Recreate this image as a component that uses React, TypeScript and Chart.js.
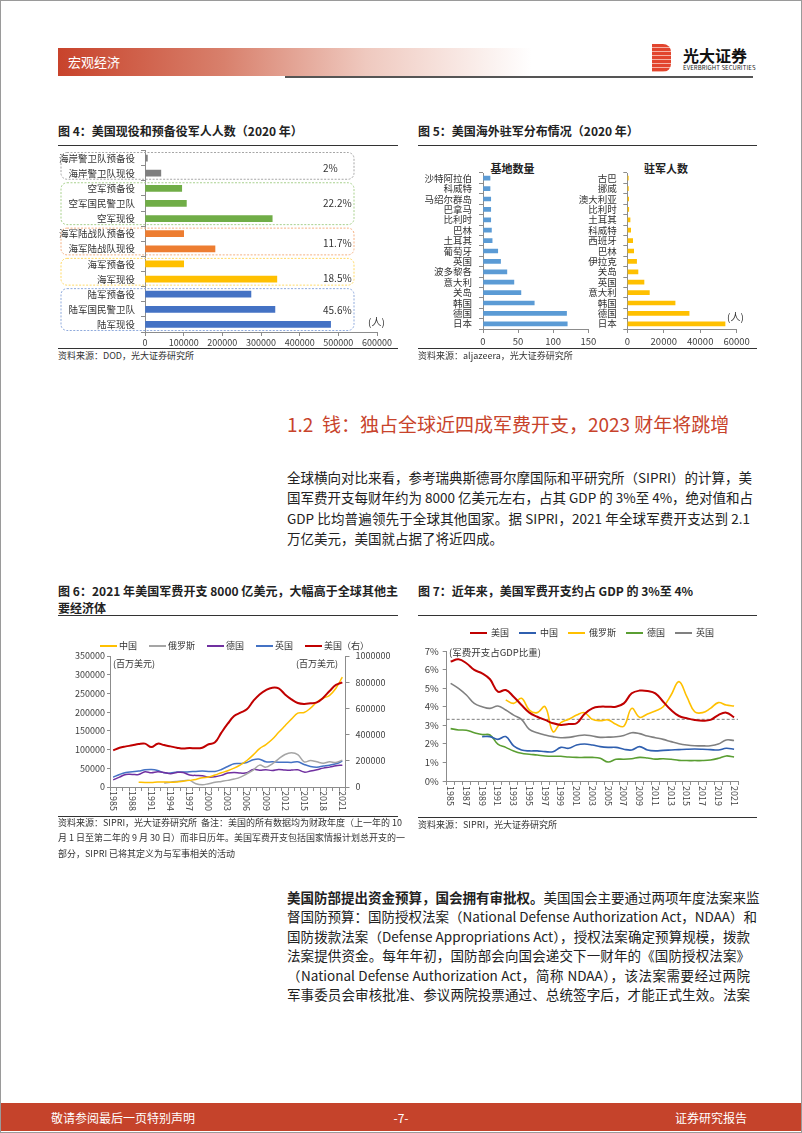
import React, { useEffect, useRef } from "react";
import { Chart, registerables } from "chart.js";

Chart.register(...registerables);

const FONT = '"Noto Sans CJK SC", "Noto Sans", sans-serif';
Chart.defaults.font.family = FONT;

// ---------------- Fig 4 data ----------------
const fig4Categories = [
  "海岸警卫队预备役", "海岸警卫队现役",
  "空军预备役", "空军国民警卫队", "空军现役",
  "海军陆战队预备役", "海军陆战队现役",
  "海军预备役", "海军现役",
  "陆军预备役", "陆军国民警卫队", "陆军现役",
];
const fig4Values = [6200, 41000, 95000, 107000, 329000, 100000, 181000, 100000, 341000, 274000, 336000, 480000];
const fig4GroupSizes = [2, 3, 2, 2, 3];
const fig4GroupShares = ["2%", "22.2%", "11.7%", "18.5%", "45.6%"];
const fig4Max = 600000;
const fig4Step = 100000;

// ---------------- Fig 5 data ----------------
const fig5BaseCountries = ["沙特阿拉伯", "科威特", "马绍尔群岛", "巴拿马", "比利时", "巴林", "土耳其", "葡萄牙", "英国", "波多黎各", "意大利", "关岛", "韩国", "德国", "日本"];
const fig5BaseCounts = [10, 10, 11, 11, 11, 12, 13, 21, 25, 34, 44, 54, 73, 119, 120];
const fig5TroopCountries = ["古巴", "挪威", "澳大利亚", "比利时", "土耳其", "科威特", "西班牙", "巴林", "伊拉克", "关岛", "英国", "意大利", "韩国", "德国", "日本"];
const fig5TroopCounts = [550, 600, 750, 800, 1500, 1850, 2950, 3500, 5100, 5850, 9150, 12100, 26200, 33900, 53600];

// ---------------- Fig 6 data ----------------
const years = [
  "1985", "1986", "1987", "1988", "1989", "1990", "1991", "1992", "1993", "1994",
  "1995", "1996", "1997", "1998", "1999", "2000", "2001", "2002", "2003", "2004",
  "2005", "2006", "2007", "2008", "2009", "2010", "2011", "2012", "2013", "2014",
  "2015", "2016", "2017", "2018", "2019", "2020", "2021",
];
const fig6XTicks = ["1985", "1988", "1991", "1994", "1997", "2000", "2003", "2006", "2009", "2012", "2015", "2018", "2021"];
const fig6China = [null, null, null, null,
  12800, 12300, 12300, 13500, 13500, 12800, 13500, 15500, 17700, 20300,
  24800, 26500, 31900, 38000, 43400, 50400, 59300, 70800, 85800, 102600,
  113300, 127400, 146000, 163700, 181400, 197300, 199000, 210600, 226500, 237000,
  245000, 263700, 293800];
const fig6Russia = [null, null, null, null, null, null, null, null,
  10600, 13000, 15000, 16800, 17700, 8800, 6200, 8800, 12400, 15000,
  17700, 21200, 26500, 35400, 45100, 58400, 53100, 62000, 75200, 86700,
  91200, 86700, 67300, 70800, 67300, 63700, 67300, 65500, 71700];
const fig6Germany = [19000, 26500, 33600, 33600, 33600, 40700, 38000, 40700, 38900, 35400,
  38900, 38900, 31900, 31000, 30100, 26500, 27400, 31000, 37200, 38900,
  37200, 38000, 46900, 45000, 46000, 44200, 46900, 45100, 45100, 46000,
  39800, 42500, 46000, 50400, 53100, 56600, 58400];
const fig6UK = [26000, 33600, 38900, 40700, 42500, 46000, 46900, 44200, 38000, 37200,
  39800, 39800, 40700, 41600, 42500, 41600, 41600, 46900, 54900, 62000,
  62800, 65500, 72600, 74300, 67300, 67300, 66400, 66400, 65500, 67300,
  60200, 54900, 53100, 55800, 58400, 62000, 69000];
const fig6US = [280000, 300000, 310000, 318000, 328000, 331000, 305000, 331000, 320000, 310000,
  300000, 293000, 298000, 295000, 300000, 326000, 341000, 415000, 483000, 542000,
  567000, 593000, 656000, 707000, 740000, 758000, 753000, 707000, 669000, 641000,
  634000, 639000, 646000, 682000, 733000, 779000, 799000];
const fig6LeftMax = 350000;
const fig6LeftStep = 50000;
const fig6RightMax = 1000000;
const fig6RightStep = 200000;

// ---------------- Fig 7 data ----------------
const fig7XTicks = ["1985", "1987", "1989", "1991", "1993", "1995", "1997", "1999", "2001", "2003", "2005", "2007", "2009", "2011", "2013", "2015", "2017", "2019", "2021"];
const fig7US = [6.43, 6.55, 6.34, 5.98, 5.80, 5.48, 4.81, 4.90, 4.54, 4.09,
  3.68, 3.46, 3.29, 3.11, 3.02, 3.07, 3.11, 3.61, 3.91, 4.00,
  4.00, 4.00, 4.18, 4.72, 4.87, 4.85, 4.72, 4.27, 3.82, 3.50,
  3.38, 3.29, 3.25, 3.29, 3.55, 3.68, 3.43];
const fig7China = [null, null, null, null,
  2.39, 2.39, 2.24, 2.39, 1.89, 1.67, 1.62, 1.62, 1.58, 1.58,
  1.81, 1.76, 1.94, 1.99, 1.94, 1.85, 1.81, 1.81, 1.71, 1.67,
  1.85, 1.67, 1.62, 1.65, 1.67, 1.69, 1.71, 1.72, 1.71, 1.69,
  1.67, 1.76, 1.71];
const fig7Russia = [null, null, null, null, null, null, null,
  4.36, 4.18, 4.45, 3.82, 3.68, 4.00, 2.66, 3.14, 3.32, 3.55,
  3.68, 3.32, 3.25, 3.29, 3.05, 2.95, 3.91, 3.43, 3.61, 3.77,
  4.00, 4.63, 5.35, 4.54, 3.73, 3.68, 3.91, 4.22, 4.09, 4.04];
const fig7Germany = [2.82, 2.75, 2.73, 2.60, 2.50, 2.48, 1.99, 1.81, 1.62, 1.49,
  1.44, 1.40, 1.35, 1.33, 1.33, 1.29, 1.27, 1.27, 1.27, 1.22,
  1.02, 1.17, 1.17, 1.20, 1.27, 1.24, 1.18, 1.20, 1.17, 1.11,
  1.10, 1.10, 1.10, 1.13, 1.22, 1.35, 1.29];
const fig7UK = [5.26, 4.99, 4.63, 4.18, 4.00, 3.91, 4.04, 3.82, 3.55, 3.32,
  2.78, 2.60, 2.48, 2.39, 2.33, 2.35, 2.42, 2.48, 2.42, 2.35,
  2.36, 2.38, 2.45, 2.60, 2.55, 2.42, 2.33, 2.24, 2.12, 2.01,
  1.94, 1.90, 1.89, 1.90, 1.99, 2.21, 2.18];
const fig7RefLevel = 3.32;
const fig7Max = 7;

// ---------------- styles ----------------
const AX = "#8c8c8c";
const TICK = "#404040";
const fig4GroupColors = ["#7F7F7F", "#70AD47", "#ED7D31", "#FFC000", "#4472C4"];
const fig4BoxColors = ["#A6A6A6", "#A9D18E", "#F4B183", "#FFD966", "#8FAADC"];
const fig4LabelDy = [2, 0, 2, 6, 1];

const fixW = (w: number) => (s: any) => {
  s.width = w; s.paddingTop = 0; s.paddingBottom = 0; s.paddingLeft = 0; s.paddingRight = 0;
};
const fixH = (h: number) => (s: any) => {
  s.height = h; s.paddingTop = 0; s.paddingBottom = 0; s.paddingLeft = 0; s.paddingRight = 0;
};
const num = (v: any) => String(v);

function ChartCanvas({ left, top, width, height, build }: any) {
  const ref = useRef<HTMLCanvasElement>(null);
  useEffect(() => {
    const chart = new Chart(ref.current as HTMLCanvasElement, build());
    return () => chart.destroy();
  }, []);
  return (
    <canvas ref={ref} width={width} height={height}
      style={{ position: "absolute", left, top, width, height }} />
  );
}

// ---------- Fig 4 ----------
const fig4GroupPlugin = {
  id: "fig4Groups",
  beforeDatasetsDraw(chart: any) {
    const { ctx } = chart;
    const y = chart.scales.y;
    const half = (y.getPixelForValue(1) - y.getPixelForValue(0)) / 2;
    let start = 0;
    ctx.save();
    fig4GroupSizes.forEach((n, g) => {
      const top = y.getPixelForValue(start) - half + 2;
      const bot = y.getPixelForValue(start + n - 1) + half - 1.5;
      ctx.beginPath();
      ctx.roundRect(3, top, 293, bot - top, 6);
      ctx.setLineDash([2, 1.5]);
      ctx.lineWidth = 1;
      ctx.strokeStyle = fig4BoxColors[g];
      ctx.stroke();
      ctx.setLineDash([]);
      ctx.fillStyle = "#333";
      ctx.font = `10px ${FONT}`;
      ctx.textBaseline = "middle";
      ctx.textAlign = "left";
      ctx.fillText(fig4GroupShares[g], 265, (top + bot) / 2 + fig4LabelDy[g]);
      start += n;
    });
    ctx.fillText("(人)", 310, 174);
    ctx.restore();
  },
};

const buildFig4 = () => {
  const colors: string[] = [];
  fig4GroupSizes.forEach((n, g) => { for (let i = 0; i < n; i++) colors.push(fig4GroupColors[g]); });
  return {
    type: "bar",
    data: { labels: fig4Categories, datasets: [{ data: fig4Values, backgroundColor: colors, barThickness: 6 }] },
    options: {
      responsive: false, animation: false, indexAxis: "y",
      layout: { padding: { top: 2.5, right: 21, left: 0, bottom: 0 } },
      plugins: { legend: { display: false }, tooltip: { enabled: false } },
      scales: {
        x: {
          type: "linear", min: 0, max: fig4Max,
          ticks: { stepSize: fig4Step, font: { size: 9 }, color: TICK, padding: 1, maxRotation: 0, callback: num },
          grid: { drawOnChartArea: false, tickLength: 4, color: AX }, border: { color: AX },
          afterFit: fixH(16),
        },
        y: {
          ticks: { font: { size: 9.5 }, color: "#333", padding: 6, autoSkip: false },
          grid: { drawOnChartArea: false, tickLength: 4, color: AX }, border: { color: AX },
          afterFit: fixW(87),
        },
      },
    },
    plugins: [fig4GroupPlugin],
  };
};

// ---------- Fig 5 ----------
const unitPlugin = (text: string, x: number, y: number) => ({
  id: "unit",
  afterDraw(chart: any) {
    const ctx = chart.ctx;
    ctx.save();
    ctx.font = `10px ${FONT}`;
    ctx.fillStyle = "#333";
    ctx.textBaseline = "middle";
    ctx.textAlign = "left";
    ctx.fillText(text, x, y);
    ctx.restore();
  },
});

const buildHBar = (labels: string[], values: number[], color: string, max: number, step: number,
  yWidth: number, padRight: number, tickPad: number, extra: any[]) => () => ({
  type: "bar",
  data: { labels, datasets: [{ data: values, backgroundColor: color, barThickness: 4 }] },
  options: {
    responsive: false, animation: false, indexAxis: "y",
    layout: { padding: { top: 3, right: padRight, left: 0, bottom: 0 } },
    plugins: { legend: { display: false }, tooltip: { enabled: false } },
    scales: {
      x: {
        type: "linear", min: 0, max,
        ticks: { stepSize: step, font: { size: 9.5 }, color: TICK, padding: 3, maxRotation: 0, callback: num },
        grid: { drawOnChartArea: false, tickLength: 4, color: AX }, border: { color: AX },
        afterFit: fixH(21),
      },
      y: {
        ticks: { font: { size: 9.5 }, color: "#333", padding: tickPad, autoSkip: false },
        grid: { drawOnChartArea: false, tickLength: 4, color: AX }, border: { color: AX },
        afterFit: fixW(yWidth),
      },
    },
  },
  plugins: extra,
});

// ---------- line chart helpers ----------
const legendPlugin = (startX: number, y: number, lineW: number, gap: number, sep: number) => ({
  id: "lineLegend",
  afterDraw(chart: any) {
    const ctx = chart.ctx;
    ctx.save();
    ctx.font = `9px ${FONT}`;
    ctx.textBaseline = "middle";
    ctx.textAlign = "left";
    let x = startX;
    chart.data.datasets.forEach((d: any) => {
      ctx.strokeStyle = d.borderColor;
      ctx.lineWidth = 2;
      ctx.beginPath();
      ctx.moveTo(x, y);
      ctx.lineTo(x + lineW, y);
      ctx.stroke();
      x += lineW + gap;
      ctx.fillStyle = "#333";
      ctx.fillText(d.label, x, y);
      x += ctx.measureText(d.label).width + sep;
    });
    ctx.restore();
  },
});

const rotatedXLabels = (ticks: string[], offset: number) => ({
  id: "rotX",
  afterDraw(chart: any) {
    const { ctx, chartArea } = chart;
    const xs = chart.scales.x;
    ctx.save();
    ctx.font = `9px ${FONT}`;
    ctx.fillStyle = TICK;
    ctx.textAlign = "left";
    ctx.textBaseline = "middle";
    (chart.data.labels as string[]).forEach((lab, i) => {
      if (!ticks.includes(lab)) return;
      ctx.save();
      ctx.translate(xs.getPixelForValue(i), chartArea.bottom + offset);
      ctx.rotate(Math.PI / 2);
      ctx.fillText(lab, 0, 0);
      ctx.restore();
    });
    ctx.restore();
  },
});

const textPlugin = (items: { t: string; x: number; y: number; align: string; size: number }[]) => ({
  id: "texts",
  afterDraw(chart: any) {
    const ctx = chart.ctx;
    ctx.save();
    ctx.fillStyle = "#333";
    ctx.textBaseline = "middle";
    items.forEach((it) => {
      ctx.font = `${it.size}px ${FONT}`;
      ctx.textAlign = it.align;
      ctx.fillText(it.t, it.x, it.y);
    });
    ctx.restore();
  },
});

const lineDs = (label: string, data: any[], color: string, width: number, axis = "y", order = 0) => ({
  label, data, borderColor: color, backgroundColor: color, borderWidth: width,
  pointRadius: 0, tension: 0.4, yAxisID: axis, order, spanGaps: false,
});

const buildFig6 = () => ({
  type: "line",
  data: {
    labels: years,
    datasets: [
      lineDs("中国", fig6China, "#FFC000", 1.5, "y", 2),
      lineDs("俄罗斯", fig6Russia, "#A5A5A5", 1.5, "y", 3),
      lineDs("德国", fig6Germany, "#7030A0", 1.5, "y", 4),
      lineDs("英国", fig6UK, "#4472C4", 1.5, "y", 5),
      lineDs("美国（右）", fig6US, "#C00000", 2, "y1", 1),
    ],
  },
  options: {
    responsive: false, animation: false,
    layout: { padding: { top: 21, right: 0, left: 0, bottom: 0 } },
    plugins: { legend: { display: false }, tooltip: { enabled: false } },
    scales: {
      x: {
        offset: true,
        ticks: { display: false },
        grid: { drawOnChartArea: false, tickLength: 4, color: AX, offset: true }, border: { color: AX },
        afterFit: fixH(31),
      },
      y: {
        position: "left", min: 0, max: fig6LeftMax,
        ticks: { stepSize: fig6LeftStep, font: { size: 9 }, color: TICK, padding: 2, callback: num },
        grid: { drawOnChartArea: false, tickLength: 3, color: AX }, border: { color: AX },
        afterFit: fixW(52),
      },
      y1: {
        position: "right", min: 0, max: fig6RightMax,
        ticks: { stepSize: fig6RightStep, font: { size: 9 }, color: TICK, padding: 6, callback: num },
        grid: { drawOnChartArea: false, tickLength: 4, color: AX }, border: { color: AX },
        afterFit: fixW(52.5),
      },
    },
  },
  plugins: [
    legendPlugin(42, 11, 17, 2, 12),
    rotatedXLabels(fig6XTicks, 4),
    textPlugin([
      { t: "(百万美元)", x: 55, y: 29, align: "left", size: 9 },
      { t: "(百万美元)", x: 280, y: 29, align: "right", size: 9 },
    ]),
  ],
});

const refLinePlugin = {
  id: "refLine",
  beforeDatasetsDraw(chart: any) {
    const { ctx, chartArea } = chart;
    const y = chart.scales.y.getPixelForValue(fig7RefLevel);
    ctx.save();
    ctx.strokeStyle = "#7F7F7F";
    ctx.lineWidth = 1;
    ctx.setLineDash([3, 2]);
    ctx.beginPath();
    ctx.moveTo(chartArea.left, y);
    ctx.lineTo(chartArea.right, y);
    ctx.stroke();
    ctx.restore();
  },
};

const buildFig7 = () => ({
  type: "line",
  data: {
    labels: years,
    datasets: [
      lineDs("美国", fig7US, "#C00000", 2, "y", 1),
      lineDs("中国", fig7China, "#2F5FAF", 1.6, "y", 3),
      lineDs("俄罗斯", fig7Russia, "#FFC000", 1.6, "y", 2),
      lineDs("德国", fig7Germany, "#5A9E32", 1.6, "y", 4),
      lineDs("英国", fig7UK, "#808080", 1.6, "y", 5),
    ],
  },
  options: {
    responsive: false, animation: false,
    layout: { padding: { top: 29, right: 20, left: 0, bottom: 0 } },
    plugins: { legend: { display: false }, tooltip: { enabled: false } },
    scales: {
      x: {
        offset: true,
        ticks: { display: false },
        grid: { drawOnChartArea: false, tickLength: 4, color: AX, offset: true }, border: { color: AX },
        afterFit: fixH(33),
      },
      y: {
        min: 0, max: fig7Max,
        ticks: { stepSize: 1, font: { size: 9.5 }, color: TICK, padding: 4, callback: (v: any) => v + "%" },
        grid: { drawOnChartArea: false, tickLength: 4, color: AX }, border: { color: AX },
        afterFit: fixW(28.7),
      },
    },
  },
  plugins: [
    refLinePlugin,
    legendPlugin(52, 11, 17, 4, 10),
    rotatedXLabels(fig7XTicks, 5),
    textPlugin([{ t: "(军费开支占GDP比重)", x: 31, y: 30, align: "left", size: 9.5 }]),
  ],
});

// ---------- page helpers ----------
function T({ x, y, size, color = "#222", weight = 400, w, align, just, center, children }: any) {
  const h = Math.round(size * 1.4);
  const style: any = {
    position: "absolute", left: x, top: y - h / 2, height: h, lineHeight: h + "px",
    fontSize: size, color, fontWeight: weight, whiteSpace: "pre",
  };
  if (w) style.width = w;
  if (just) { style.textAlign = "justify"; style.textAlignLast = "justify"; }
  else if (align) style.textAlign = align;
  if (center) style.transform = "translateX(-50%)";
  return <div style={style}>{children}</div>;
}

function Rule({ x, y, w, h = 1, color = "#333" }: any) {
  return <div style={{ position: "absolute", left: x, top: y, width: w, height: h, background: color }} />;
}

const para1 = [
  "全球横向对比来看，参考瑞典斯德哥尔摩国际和平研究所（SIPRI）的计算，美",
  "国军费开支每财年约为 8000 亿美元左右，占其 GDP 的 3%至 4%，绝对值和占",
  "GDP 比均普遍领先于全球其他国家。据 SIPRI，2021 年全球军费开支达到 2.1",
  "万亿美元，美国就占据了将近四成。",
];
const para2 = [
  "督国防预算：国防授权法案（National Defense Authorization Act，NDAA）和",
  "国防拨款法案（Defense Appropriations Act），授权法案确定预算规模，拨款",
  "法案提供资金。每年年初，国防部会向国会递交下一财年的《国防授权法案》",
  "（National Defense Authorization Act，简称 NDAA），该法案需要经过两院",
  "军事委员会审核批准、参议两院投票通过、总统签字后，才能正式生效。法案",
];

export default function App() {
  return (
    <div style={{
      position: "absolute", left: 0, top: 0, width: 802, height: 1133, overflow: "hidden",
      background: "#fff", fontFamily: FONT, color: "#222",
    }}>
      {/* header */}
      <div style={{
        position: "absolute", left: 58, top: 48, width: 474, height: 28,
        background: "linear-gradient(to right, #C8432B 0%, #D8806C 35%, #EFC9BF 65%, #FFFFFF 100%)",
      }} />
      <T x={68} y={62} size={13} color="#fff">宏观经济</T>
      <Rule x={285} y={76} w={468} h={2} color="#555" />
      <div style={{
        position: "absolute", left: 652, top: 44, width: 19, height: 28,
        background: "repeating-linear-gradient(to bottom, #E2452E 0px, #E2452E 3px, #F6B3A6 3px, #F6B3A6 4px)",
        borderRadius: "0 8px 8px 0",
      }} />
      <T x={683} y={55} size={16} weight={700} color="#111">光大证券</T>
      <div style={{ position: "absolute", left: 683, top: 64, fontSize: 6, lineHeight: "7px", color: "#222", whiteSpace: "nowrap", letterSpacing: 0.1 }}>
        EVERBRIGHT SECURITIES
      </div>

      {/* Fig 4 */}
      <T x={58} y={130} size={12} weight={700}>图 4：美国现役和预备役军人人数（2020 年）</T>
      <Rule x={58} y={145} w={340} />
      <ChartCanvas left={58} top={148} width={340} height={200} build={buildFig4} />
      <Rule x={58} y={348} w={340} />
      <T x={58} y={355} size={9} color="#333">资料来源：DOD，光大证券研究所</T>

      {/* Fig 5 */}
      <T x={418} y={130} size={12} weight={700}>图 5：美国海外驻军分布情况（2020 年）</T>
      <Rule x={418} y={145} w={339} />
      <T x={512.5} y={168} size={11} weight={700} center>基地数量</T>
      <T x={666} y={168} size={11} weight={700} center>驻军人数</T>
      <ChartCanvas left={418} top={170} width={182} height={180}
        build={buildHBar(fig5BaseCountries, fig5BaseCounts, "#5B9BD5", 150, 50, 65, 11.7, 7, [])} />
      <ChartCanvas left={575} top={170} width={182} height={180}
        build={buildHBar(fig5TroopCountries, fig5TroopCounts, "#FFC000", 60000, 20000, 52.3, 20.3, 6.5, [unitPlugin("(人)", 152, 147)])} />
      <Rule x={418} y={348} w={339} />
      <T x={418} y={355} size={9} color="#333">资料来源：aljazeera，光大证券研究所</T>

      {/* Section heading and paragraph */}
      <T x={287} y={423} size={19} color="#C8432B">{"1.2  钱：独占全球近四成军费开支，2023 财年将跳增"}</T>
      {para1.map((l, i) => (
        <T key={i} x={287} y={477 + i * 20.5} size={13.5} w={463} just={i < para1.length - 1}>{l}</T>
      ))}

      {/* Fig 6 */}
      <T x={58} y={590} size={12} weight={700} w={340} just>图 6：2021 年美国军费开支 8000 亿美元，大幅高于全球其他主</T>
      <T x={58} y={607} size={12} weight={700}>要经济体</T>
      <Rule x={58} y={615} w={340} />
      <ChartCanvas left={58} top={635} width={340} height={183} build={buildFig6} />
      <Rule x={58} y={816} w={340} />
      <T x={58} y={822} size={9} color="#333" w={340} just>{"资料来源：SIPRI，光大证券研究所  备注：美国的所有数据均为财政年度（上一年的 10"}</T>
      <T x={58} y={837.5} size={9} color="#333" w={340} just>月 1 日至第二年的 9 月 30 日）而非日历年。美国军费开支包括国家情报计划总开支的一</T>
      <T x={58} y={853} size={9} color="#333">部分，SIPRI 已将其定义为与军事相关的活动</T>

      {/* Fig 7 */}
      <T x={418} y={590} size={12} weight={700}>图 7：近年来，美国军费开支约占 GDP 的 3%至 4%</T>
      <Rule x={418} y={615} w={339} />
      <ChartCanvas left={418} top={622} width={340} height={192} build={buildFig7} />
      <Rule x={418} y={817} w={339} />
      <T x={418} y={824} size={9} color="#333">资料来源：SIPRI，光大证券研究所</T>

      {/* Paragraph 2 */}
      <T x={287} y={897} size={13.5} w={463} just>
        <b>美国防部提出资金预算，国会拥有审批权。</b>美国国会主要通过两项年度法案来监
      </T>
      {para2.map((l, i) => (
        <T key={i} x={287} y={897 + (i + 1) * 19.5} size={13.5} w={463} just>{l}</T>
      ))}

      {/* footer */}
      <div style={{ position: "absolute", left: 0, top: 1103, width: 802, height: 28, background: "#C5432B" }} />
      <T x={51} y={1117} size={12} color="#fff">敬请参阅最后一页特别声明</T>
      <T x={401} y={1117} size={12} color="#fff" center>-7-</T>
      <T x={675} y={1117} size={12} color="#fff">证券研究报告</T>

      {/* page border */}
      <div style={{ position: "absolute", left: 0, top: 0, width: 802, height: 1133, boxSizing: "border-box", border: "1px solid #9a9a9a", pointerEvents: "none" }} />
    </div>
  );
}
